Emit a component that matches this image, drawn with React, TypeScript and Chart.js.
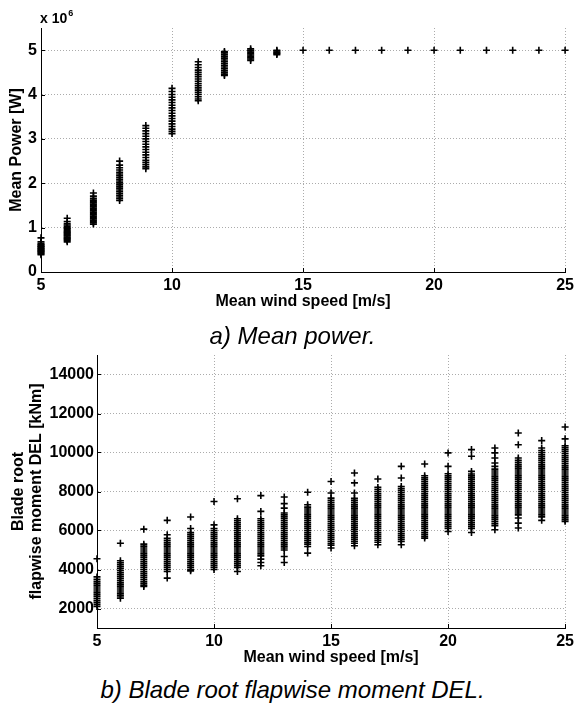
import React, { useEffect, useRef } from 'react';
import { Chart, registerables } from 'chart.js';

Chart.register(...registerables);

// ---------- axes ----------
const windSpeeds = [5, 6, 7, 8, 9, 10, 11, 12, 13, 14, 15, 16, 17, 18, 19, 20, 21, 22, 23, 24, 25];
const xTicks = [5, 10, 15, 20, 25];
const powerTicks = [0, 1, 2, 3, 4, 5];
const delTicks = [2000, 4000, 6000, 8000, 10000, 12000, 14000];

// ---------- mean power [x 10^6 W] per wind speed ----------
const power05 = [0.77, 0.68, 0.64, 0.62, 0.6, 0.58, 0.57, 0.55, 0.53, 0.52, 0.5, 0.48, 0.47, 0.45, 0.43, 0.41, 0.39];
const power06 = [1.21, 1.14, 1.09, 1.06, 1.03, 1.0, 0.98, 0.96, 0.93, 0.91, 0.89, 0.87, 0.85, 0.83, 0.81, 0.79, 0.77, 0.75, 0.73, 0.71, 0.68];
const power07 = [1.78, 1.71, 1.66, 1.62, 1.59, 1.56, 1.53, 1.5, 1.47, 1.44, 1.41, 1.38, 1.35, 1.32, 1.29, 1.26, 1.23, 1.2, 1.17, 1.14, 1.11, 1.08];
const power08 = [2.5, 2.41, 2.35, 2.3, 2.25, 2.21, 2.17, 2.13, 2.09, 2.05, 2.01, 1.97, 1.93, 1.89, 1.85, 1.81, 1.77, 1.73, 1.69, 1.65, 1.61];
const power09 = [3.3, 3.24, 3.18, 3.12, 3.06, 3.0, 2.94, 2.88, 2.82, 2.76, 2.7, 2.64, 2.58, 2.52, 2.47, 2.42, 2.37, 2.33];
const power10 = [4.14, 4.07, 4.0, 3.94, 3.88, 3.82, 3.76, 3.7, 3.64, 3.58, 3.52, 3.46, 3.4, 3.34, 3.28, 3.22, 3.17, 3.12];
const power11 = [4.74, 4.67, 4.61, 4.55, 4.5, 4.45, 4.4, 4.35, 4.3, 4.25, 4.2, 4.15, 4.1, 4.05, 4.0, 3.95, 3.9, 3.86];
const power12 = [4.97, 4.94, 4.9, 4.86, 4.82, 4.78, 4.74, 4.7, 4.66, 4.62, 4.58, 4.54, 4.5, 4.46, 4.43];
const power13 = [5.03, 5.0, 4.98, 4.95, 4.92, 4.89, 4.86, 4.83, 4.8, 4.77];
const power14 = [5.0, 4.98, 4.96, 4.94, 4.92, 4.9];
const power15 = [5.0];
const power16 = [5.0];
const power17 = [5.0];
const power18 = [5.0];
const power19 = [5.0];
const power20 = [5.0];
const power21 = [5.0];
const power22 = [5.0];
const power23 = [5.0];
const power24 = [5.0];
const power25 = [5.0];

// ---------- blade root flapwise moment DEL [kNm] per wind speed ----------
const del05 = [4550, 3620, 3500, 3400, 3300, 3200, 3100, 3000, 2900, 2800, 2700, 2600, 2500, 2400, 2300, 2200, 2100];
const del06 = [5350, 4450, 4350, 4250, 4150, 4050, 3950, 3850, 3750, 3650, 3550, 3450, 3350, 3250, 3150, 3050, 2950, 2850, 2750, 2650, 2530];
const del07 = [6070, 5300, 5200, 5100, 5000, 4900, 4800, 4700, 4600, 4500, 4400, 4300, 4200, 4100, 4000, 3900, 3800, 3700, 3600, 3500, 3400, 3300, 3200, 3130];
const del08 = [6520, 5780, 5600, 5500, 5400, 5300, 5200, 5100, 5000, 4900, 4800, 4700, 4600, 4500, 4400, 4300, 4200, 4100, 4000, 3900, 3560];
const del09 = [6690, 6100, 5900, 5800, 5700, 5600, 5500, 5400, 5300, 5200, 5100, 5000, 4900, 4800, 4700, 4600, 4500, 4400, 4300, 4200, 4100, 4000, 3930];
const del10 = [7490, 6290, 6100, 6000, 5900, 5800, 5700, 5600, 5500, 5400, 5300, 5200, 5100, 5000, 4900, 4800, 4700, 4600, 4500, 4400, 4300, 4200, 4100, 4000];
const del11 = [7630, 6600, 6500, 6400, 6300, 6200, 6100, 6000, 5900, 5800, 5700, 5600, 5500, 5400, 5300, 5200, 5100, 5000, 4900, 4800, 4700, 4600, 4500, 4400, 4300, 4200, 4100, 3900];
const del12 = [7790, 6980, 6600, 6500, 6400, 6300, 6200, 6100, 6000, 5900, 5800, 5700, 5600, 5500, 5400, 5300, 5200, 5100, 5000, 4900, 4800, 4700, 4530, 4360, 4190];
const del13 = [7720, 7380, 7150, 6900, 6800, 6700, 6600, 6500, 6400, 6300, 6200, 6100, 6000, 5900, 5800, 5700, 5600, 5500, 5400, 5300, 5200, 5100, 5000, 4670, 4360];
const del14 = [7960, 7320, 7200, 7100, 7000, 6900, 6800, 6700, 6600, 6500, 6400, 6300, 6200, 6100, 6000, 5900, 5800, 5700, 5600, 5500, 5400, 5300, 5180, 4840];
const del15 = [8510, 7920, 7660, 7550, 7450, 7350, 7250, 7150, 7050, 6950, 6850, 6750, 6650, 6550, 6450, 6350, 6250, 6150, 6050, 5950, 5850, 5750, 5650, 5550, 5450, 5350, 5250, 5100];
const del16 = [8950, 8440, 7920, 7650, 7550, 7450, 7350, 7250, 7150, 7050, 6950, 6850, 6750, 6650, 6550, 6450, 6350, 6250, 6150, 6050, 5950, 5850, 5750, 5650, 5550, 5450, 5350, 5220];
const del17 = [8640, 8210, 8100, 8000, 7900, 7800, 7700, 7600, 7500, 7400, 7300, 7200, 7100, 7000, 6900, 6800, 6700, 6600, 6500, 6400, 6300, 6200, 6100, 6000, 5900, 5800, 5700, 5600, 5500, 5400, 5270];
const del18 = [9290, 8690, 8260, 8150, 8050, 7950, 7850, 7750, 7650, 7550, 7450, 7350, 7250, 7150, 7050, 6950, 6850, 6750, 6650, 6550, 6450, 6350, 6250, 6150, 6050, 5950, 5850, 5750, 5650, 5550, 5440, 5270];
const del19 = [9410, 8810, 8700, 8600, 8500, 8400, 8300, 8200, 8100, 8000, 7900, 7800, 7700, 7600, 7500, 7400, 7300, 7200, 7100, 7000, 6900, 6800, 6700, 6600, 6500, 6400, 6300, 6200, 6100, 6000, 5900, 5800, 5700, 5610];
const del20 = [9980, 9290, 8910, 8800, 8700, 8600, 8500, 8400, 8300, 8200, 8100, 8000, 7900, 7800, 7700, 7600, 7500, 7400, 7300, 7200, 7100, 7000, 6900, 6800, 6700, 6600, 6500, 6400, 6300, 6200, 6100, 5950];
const del21 = [10150, 9810, 9030, 8900, 8800, 8700, 8600, 8500, 8400, 8300, 8200, 8100, 8000, 7900, 7800, 7700, 7600, 7500, 7400, 7300, 7200, 7100, 7000, 6900, 6800, 6700, 6600, 6500, 6400, 6300, 6200, 6100, 5900];
const del22 = [10230, 9980, 9720, 9460, 9290, 9150, 9050, 8950, 8850, 8750, 8650, 8550, 8450, 8350, 8250, 8150, 8050, 7950, 7850, 7750, 7650, 7550, 7450, 7350, 7250, 7150, 7050, 6950, 6850, 6750, 6650, 6550, 6450, 6350, 6250, 6040];
const del23 = [11000, 10400, 9720, 9600, 9500, 9400, 9300, 9200, 9100, 9000, 8900, 8800, 8700, 8600, 8500, 8400, 8300, 8200, 8100, 8000, 7900, 7800, 7700, 7600, 7500, 7400, 7300, 7200, 7100, 7000, 6900, 6800, 6640, 6380, 6130];
const del24 = [10610, 10230, 10100, 10000, 9900, 9800, 9700, 9600, 9500, 9400, 9300, 9200, 9100, 9000, 8900, 8800, 8700, 8600, 8500, 8400, 8300, 8200, 8100, 8000, 7900, 7800, 7700, 7600, 7500, 7400, 7300, 7200, 7100, 7000, 6900, 6800, 6700, 6520];
const del25 = [11310, 10700, 10350, 10250, 10150, 10050, 9950, 9850, 9750, 9650, 9550, 9450, 9350, 9250, 9150, 9050, 8950, 8850, 8750, 8650, 8550, 8450, 8350, 8250, 8150, 8050, 7950, 7850, 7750, 7650, 7550, 7450, 7350, 7250, 7150, 7050, 6950, 6850, 6750, 6650, 6550, 6470];

const powerSamples = [power05, power06, power07, power08, power09, power10, power11, power12, power13, power14, power15,
  power16, power17, power18, power19, power20, power21, power22, power23, power24, power25];
const delSamples = [del05, del06, del07, del08, del09, del10, del11, del12, del13, del14, del15,
  del16, del17, del18, del19, del20, del21, del22, del23, del24, del25];

const toPoints = (samples: number[][]) =>
  windSpeeds.flatMap((w, i) => samples[i].map((v) => ({ x: w, y: v })));

const FONT = '"Liberation Sans", Arial, Helvetica, sans-serif';
const GRID = '#ababab';

const datasetStyle = {
  pointStyle: 'cross' as const,
  pointRadius: 3.5,
  pointBorderWidth: 1.6,
  borderColor: '#000',
  backgroundColor: '#000',
  showLine: false,
  clip: false as const,
};

// MATLAB-like inward tick marks on the left and bottom axes
const innerTicks = {
  id: 'innerTicks',
  afterDraw(chart: any) {
    const { ctx, chartArea, scales } = chart;
    ctx.save();
    ctx.strokeStyle = '#000';
    ctx.lineWidth = 1;
    ctx.beginPath();
    scales.x.ticks.forEach((t: any) => {
      const px = Math.round(scales.x.getPixelForValue(t.value)) + 0.5;
      ctx.moveTo(px, chartArea.bottom);
      ctx.lineTo(px, chartArea.bottom - 4);
    });
    scales.y.ticks.forEach((t: any) => {
      const py = Math.round(scales.y.getPixelForValue(t.value)) + 0.5;
      ctx.moveTo(chartArea.left, py);
      ctx.lineTo(chartArea.left + 4, py);
    });
    ctx.stroke();
    ctx.restore();
  },
};

function makeScales(opts: {
  yMin: number; yMax: number; yTickValues: number[]; yWidth: number; xHeight: number;
  yTitle: string | string[]; yTitlePad: number; yTickPad: number; yLineHeight: number;
}) {
  return {
    x: {
      type: 'linear' as const,
      position: 'bottom' as const,
      min: 5,
      max: 25,
      afterBuildTicks: (s: any) => { s.ticks = xTicks.map((v) => ({ value: v })); },
      afterFit: (s: any) => { s.height = opts.xHeight; },
      grid: { color: GRID, lineWidth: 1, drawTicks: false },
      border: { display: true, color: '#000', width: 1, dash: [1, 2] },
      ticks: {
        color: '#000', padding: 4, maxRotation: 0, autoSkip: false,
        font: { family: FONT, size: 16, weight: 'bold' as const },
        callback: (v: any) => String(v),
      },
      title: {
        display: true, text: 'Mean wind speed [m/s]', color: '#000',
        padding: { top: 0, bottom: 0 },
        font: { family: FONT, size: 16, weight: 'bold' as const, lineHeight: 1.2 },
      },
    },
    y: {
      type: 'linear' as const,
      position: 'left' as const,
      min: opts.yMin,
      max: opts.yMax,
      afterBuildTicks: (s: any) => { s.ticks = opts.yTickValues.map((v) => ({ value: v })); },
      afterFit: (s: any) => { s.width = opts.yWidth; },
      grid: { color: GRID, lineWidth: 1, drawTicks: false },
      border: { display: true, color: '#000', width: 1, dash: [1, 2] },
      ticks: {
        color: '#000', padding: opts.yTickPad, autoSkip: false,
        font: { family: FONT, size: 16, weight: 'bold' as const },
        callback: (v: any) => String(v),
      },
      title: {
        display: true, text: opts.yTitle, color: '#000',
        padding: { top: opts.yTitlePad, bottom: 0 },
        font: { family: FONT, size: 16, weight: 'bold' as const, lineHeight: opts.yLineHeight },
      },
    },
  };
}

function PowerChart() {
  const ref = useRef<HTMLCanvasElement>(null);
  useEffect(() => {
    if (!ref.current) return;
    const chart = new Chart(ref.current, {
      type: 'scatter',
      data: { datasets: [{ data: toPoints(powerSamples), ...datasetStyle }] },
      options: {
        responsive: false,
        animation: false,
        devicePixelRatio: 1,
        layout: { padding: { top: 28, right: 11, left: 0, bottom: 1 } },
        plugins: { legend: { display: false }, tooltip: { enabled: false } },
        scales: makeScales({
          yMin: 0, yMax: 5.5, yTickValues: powerTicks, yWidth: 41, xHeight: 39,
          yTitle: 'Mean Power [W]', yTitlePad: 7, yTickPad: 4, yLineHeight: 1.2,
        }),
      },
      plugins: [innerTicks],
    });
    return () => chart.destroy();
  }, []);
  return <canvas ref={ref} width={578} height={312} style={{ position: 'absolute', left: 0, top: 0, display: 'block' }} />;
}

function DelChart() {
  const ref = useRef<HTMLCanvasElement>(null);
  useEffect(() => {
    if (!ref.current) return;
    const chart = new Chart(ref.current, {
      type: 'scatter',
      data: { datasets: [{ data: toPoints(delSamples), ...datasetStyle }] },
      options: {
        responsive: false,
        animation: false,
        devicePixelRatio: 1,
        layout: { padding: { top: 25, right: 9, left: 0, bottom: 3 } },
        plugins: { legend: { display: false }, tooltip: { enabled: false } },
        scales: makeScales({
          yMin: 1000, yMax: 15000, yTickValues: delTicks, yWidth: 97, xHeight: 39,
          yTitle: ['Blade root', 'flapwise moment DEL [kNm]'], yTitlePad: 10, yTickPad: 3, yLineHeight: 1.1,
        }),
      },
      plugins: [innerTicks],
    });
    return () => chart.destroy();
  }, []);
  return <canvas ref={ref} width={578} height={340} style={{ position: 'absolute', left: 0, top: 330, display: 'block' }} />;
}

const captionStyle: React.CSSProperties = {
  position: 'absolute', left: 0, width: 585, textAlign: 'center',
  fontFamily: FONT, fontStyle: 'italic', fontSize: 24, lineHeight: '24px', color: '#000',
  whiteSpace: 'nowrap',
};

export default function App() {
  return (
    <div style={{ position: 'absolute', left: 0, top: 0, width: 578, height: 704, background: '#fff', overflow: 'hidden' }}>
      <PowerChart />
      <DelChart />
      <div style={{ position: 'absolute', left: 40, top: 11, fontFamily: FONT, fontWeight: 'bold', fontSize: 14, lineHeight: '14px', color: '#000', whiteSpace: 'nowrap' }}>
        x 10<span style={{ position: 'relative', top: -7, fontSize: 9, marginLeft: 1 }}>6</span>
      </div>
      <div style={{ ...captionStyle, top: 324 }}>a) Mean power.</div>
      <div style={{ ...captionStyle, top: 678 }}>b) Blade root flapwise moment DEL.</div>
    </div>
  );
}
